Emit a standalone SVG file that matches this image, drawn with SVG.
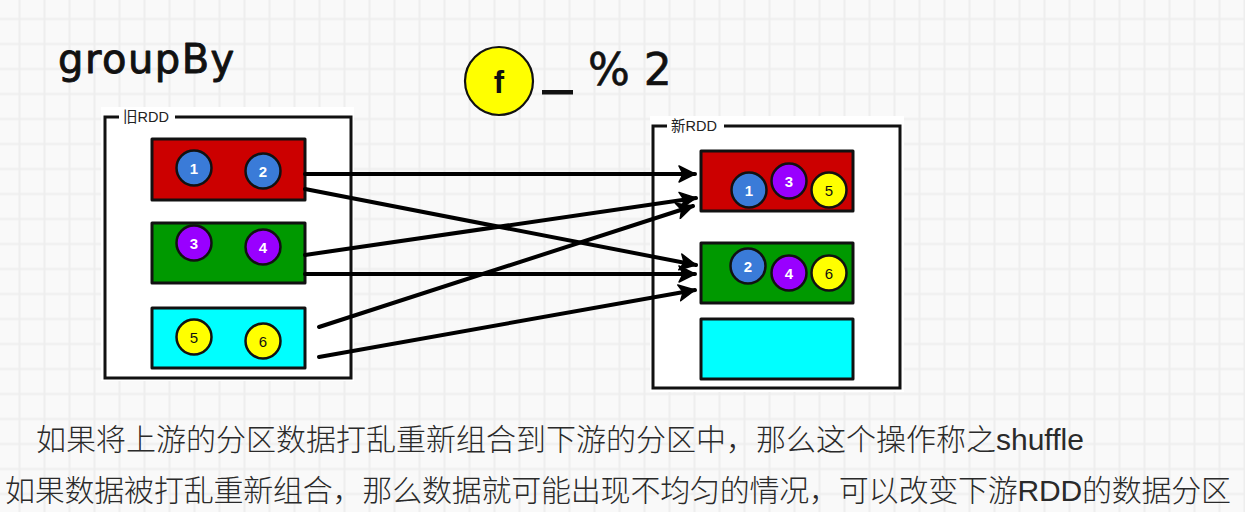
<svg xmlns="http://www.w3.org/2000/svg" width="1245" height="512" viewBox="0 0 1245 512">
<defs>
<pattern id="grid" patternUnits="userSpaceOnUse" x="7" y="6.5" width="25" height="25">
<rect width="25" height="25" fill="#f9f9f9"/>
<path d="M12.5 0V25M0 12.5H25" stroke="#eeeeee" stroke-width="2"/>
</pattern>
<marker id="arr" markerUnits="userSpaceOnUse" viewBox="0 0 18 18" markerWidth="18" markerHeight="18" refX="17" refY="9" orient="auto">
<path d="M1 1 L17 9 L1 17 L5 9 Z" fill="#000" stroke="#000" stroke-width="1.5" stroke-linejoin="round"/>
</marker>
<style>
.box{fill:#fff;stroke:#111;stroke-width:3}
.part{stroke:#111;stroke-width:3;stroke-linejoin:round}
.red{fill:#cc0000}.green{fill:#009900}.cyan{fill:#00ffff}
.ball{stroke:#111;stroke-width:2.5}
.blue{fill:#3a7bd8}.purple{fill:#9900ff}.yellow{fill:#ffff00}
.num{font-family:"Liberation Sans",Arial,sans-serif;font-size:15px;font-weight:bold;text-anchor:middle}
.w{fill:#fff}.k{fill:#111;font-weight:normal}
.lbl{font-family:"Liberation Sans","Noto Sans CJK SC",sans-serif;font-size:14.5px;fill:#222}
.edge{stroke:#000;stroke-width:4;fill:none;stroke-linecap:round;marker-end:url(#arr)}
.cap{font-family:"Liberation Sans","Noto Sans CJK SC",sans-serif;font-size:30px;font-weight:300;fill:#2a2a2a}
</style>
</defs>
<rect width="1245" height="512" fill="url(#grid)"/>

<g id="title">
<text x="58" y="73" font-family="'DejaVu Sans',sans-serif" font-size="40" letter-spacing="1.5" fill="#111" stroke="#111" stroke-width="0.9" stroke-linejoin="round">groupBy</text>
</g>

<g id="func">
<circle cx="499" cy="81" r="34" fill="#ffff00" stroke="#111" stroke-width="2.2"/>
<text x="499" y="93" font-family="'Liberation Sans',Arial,sans-serif" font-size="31" font-weight="bold" text-anchor="middle" fill="#111">f</text>
<rect x="542" y="90" width="31" height="4.5" fill="#111"/>
<text x="588" y="85" font-family="'DejaVu Sans',sans-serif" font-size="44" fill="#111" stroke="#111" stroke-width="0.6" stroke-linejoin="round">% 2</text>
</g>

<g id="oldRDD">
<rect x="101" y="107" width="253" height="274" fill="#fff"/>
<rect class="box" x="105" y="117" width="246" height="261"/>
<rect x="119" y="108" width="56" height="16" fill="#fff"/>
<text class="lbl" x="123" y="122">旧RDD</text>
<g id="old-p1">
<rect class="part red" x="152" y="139" width="153" height="61"/>
<circle class="ball blue" cx="194" cy="168" r="17.5"/><text class="num w" x="194" y="173.5">1</text>
<circle class="ball blue" cx="263" cy="171" r="17.5"/><text class="num w" x="263" y="176.5">2</text>
</g>
<g id="old-p2">
<rect class="part green" x="152" y="223" width="153" height="60"/>
<circle class="ball purple" cx="194" cy="243" r="17.5"/><text class="num w" x="194" y="248.5">3</text>
<circle class="ball purple" cx="263" cy="247" r="17.5"/><text class="num w" x="263" y="252.5">4</text>
</g>
<g id="old-p3">
<rect class="part cyan" x="152" y="308" width="153" height="60"/>
<circle class="ball yellow" cx="194" cy="337" r="17.5"/><text class="num k" x="194" y="342.5">5</text>
<circle class="ball yellow" cx="263" cy="341" r="17.5"/><text class="num k" x="263" y="346.5">6</text>
</g>
</g>

<g id="newRDD">
<rect x="650" y="116" width="254" height="276" fill="#fff"/>
<rect class="box" x="653" y="126" width="247" height="262"/>
<rect x="667" y="117" width="57" height="16" fill="#fff"/>
<text class="lbl" x="671" y="131">新RDD</text>
<g id="new-p1">
<rect class="part red" x="701" y="151" width="152" height="60"/>
<circle class="ball blue" cx="749" cy="190" r="17.5"/><text class="num w" x="749" y="195.5">1</text>
<circle class="ball purple" cx="789" cy="181" r="17.5"/><text class="num w" x="789" y="186.5">3</text>
<circle class="ball yellow" cx="829" cy="190" r="17.5"/><text class="num k" x="829" y="195.5">5</text>
</g>
<g id="new-p2">
<rect class="part green" x="701" y="243" width="152" height="60"/>
<circle class="ball blue" cx="748" cy="266" r="17.5"/><text class="num w" x="748" y="271.5">2</text>
<circle class="ball purple" cx="789" cy="273" r="17.5"/><text class="num w" x="789" y="278.5">4</text>
<circle class="ball yellow" cx="829" cy="273" r="17.5"/><text class="num k" x="829" y="278.5">6</text>
</g>
<g id="new-p3">
<rect class="part cyan" x="701" y="319" width="152" height="60"/>
</g>
</g>

<g id="connectors">
<line class="edge" x1="305" y1="174" x2="695" y2="174"/>
<line class="edge" x1="305" y1="189" x2="696" y2="265"/>
<line class="edge" x1="305" y1="255" x2="696" y2="198"/>
<line class="edge" x1="305" y1="274" x2="695" y2="274"/>
<line class="edge" x1="319" y1="327" x2="693" y2="206"/>
<line class="edge" x1="319" y1="357" x2="695" y2="290"/>
</g>

<g id="caption">
<text class="cap" x="36" y="450">如果将上游的分区数据打乱重新组合到下游的分区中，那么这个操作称之shuffle</text>
<text class="cap" x="5" y="501" textLength="1226" lengthAdjust="spacing">如果数据被打乱重新组合，那么数据就可能出现不均匀的情况，可以改变下游RDD的数据分区</text>
</g>
</svg>
